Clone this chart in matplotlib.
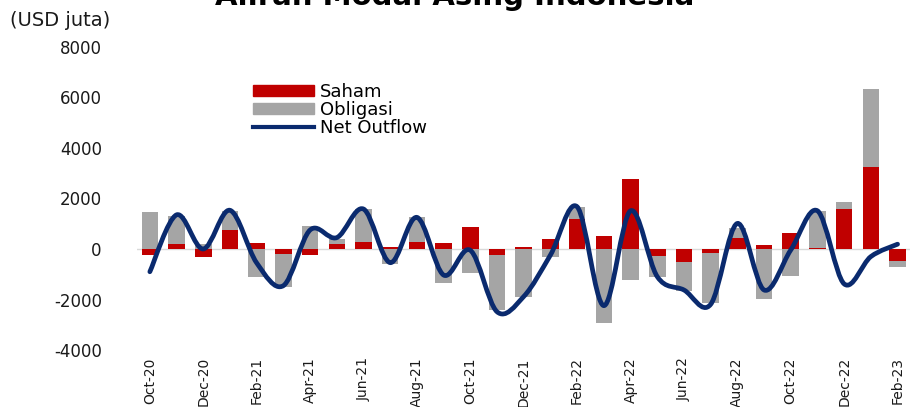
import numpy as np
import matplotlib
matplotlib.use('Agg')
import matplotlib.pyplot as plt
from matplotlib.path import Path
from matplotlib.patches import PathPatch, Patch
from matplotlib.lines import Line2D

months = ['Oct-20', 'Nov-20', 'Dec-20', 'Jan-21', 'Feb-21', 'Mar-21', 'Apr-21', 'May-21',
          'Jun-21', 'Jul-21', 'Aug-21', 'Sep-21', 'Oct-21', 'Nov-21', 'Dec-21', 'Jan-22',
          'Feb-22', 'Mar-22', 'Apr-22', 'May-22', 'Jun-22', 'Jul-22', 'Aug-22', 'Sep-22',
          'Oct-22', 'Nov-22', 'Dec-22', 'Jan-23', 'Feb-23']

saham = [-250, 200, -320, 750, 250, -210, -250, 180, 290, 70, 265, 250, 880, -240, 70, 380,
         1170, 530, 2750, -260, -530, -170, 450, 160, 640, 30, 1580, 3230, -470]
obligasi = [1450, 1100, 180, 760, -1100, -1280, 920, 220, 1280, -590, 1000, -1360, -940, -2170,
            -1910, -300, 500, -2910, -1220, -830, -1120, -1950, 370, -1990, -1070, 1480, 290,
            3080, -230]
net_outflow = [-900, 1350, 0, 1530, -550, -1450, 750, 450, 1580, -540, 1250, -1030, -50, -2480,
               -1880, -240, 1670, -2240, 1510, -1090, -1620, -2190, 1010, -1620, -40, 1510,
               -1380, -300, 190]

red = '#C00000'
grey = '#A5A5A5'
navy = '#0A2A6E'

fig = plt.figure(figsize=(9.1, 4.07), dpi=100)
ax = fig.add_axes([0.150, 0.1396, 0.851, 0.7459])

x = np.arange(len(months))
s = np.array(saham, dtype=float)
o = np.array(obligasi, dtype=float)
# excel style stacking: positives stack up, negatives stack down
bottom_o = np.where(np.sign(o) == np.sign(s), s, 0)

ax.axhline(0, color='#D9D9D9', lw=1, zorder=0)
ax.bar(x, s, width=0.62, color=red, zorder=2)
ax.bar(x, o, width=0.62, bottom=bottom_o, color=grey, zorder=2)

# smoothed line (catmull-rom as bezier segments)
pts = np.column_stack([x, net_outflow]).astype(float)
ext = np.vstack([pts[0], pts, pts[-1]])
verts = [pts[0]]
codes = [Path.MOVETO]
for i in range(len(pts) - 1):
    p0, p1, p2, p3 = ext[i], ext[i + 1], ext[i + 2], ext[i + 3]
    verts += [p1 + (p2 - p0) / 6, p2 - (p3 - p1) / 6, p2]
    codes += [Path.CURVE4] * 3
ax.add_patch(PathPatch(Path(verts, codes), facecolor='none', edgecolor=navy, lw=3.4,
                       zorder=3, capstyle='round', joinstyle='round'))

ax.set_xlim(-0.5, len(months) - 0.5)
ax.set_ylim(-4000, 8000)
ax.set_yticks(np.arange(-4000, 8001, 2000))
ax.set_yticklabels([str(v) for v in range(-4000, 8001, 2000)])
ax.set_xticks(x[::2])
ax.set_xticklabels(months[::2], rotation=90)
ax.tick_params(length=0, colors='#1a1a1a')
ax.tick_params(axis='y', labelsize=12, pad=25)
ax.tick_params(axis='x', labelsize=10, pad=5)
for sp in ax.spines.values():
    sp.set_visible(False)

handles = [Patch(color=red, label='Saham'), Patch(color=grey, label='Obligasi'),
           Line2D([], [], color=navy, lw=3, label='Net Outflow')]
ax.legend(handles=handles, loc='upper left', bbox_to_anchor=(0.150, 0.88), frameon=False,
          fontsize=13, handlelength=3.4, handleheight=0.5, handletextpad=0.35,
          labelspacing=0.0, borderpad=0, borderaxespad=0)

fig.text(10 / 910, 1 - 21 / 407, '(USD juta)', fontsize=14, va='center', ha='left', color='#1a1a1a')
fig.text(0.5, 1 - 5 / 407, 'Aliran Modal Asing Indonesia', fontsize=21, fontweight='bold',
         ha='center', va='baseline')

fig.savefig('out.png', dpi=100)
